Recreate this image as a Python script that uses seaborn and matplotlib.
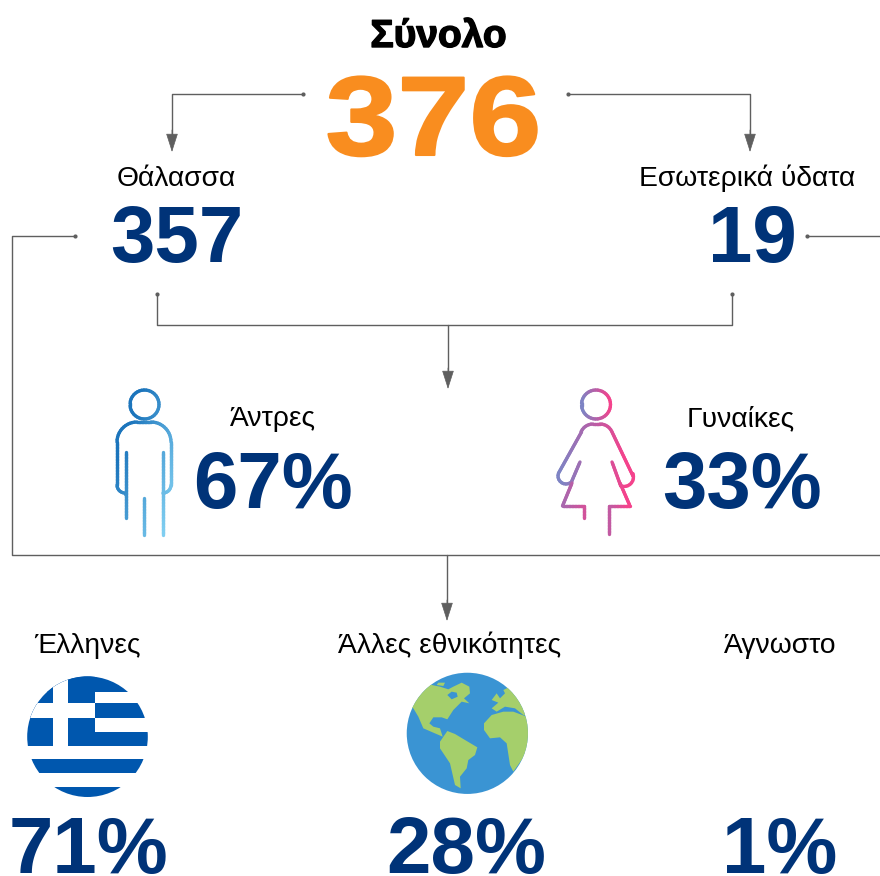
import numpy as np
import matplotlib
matplotlib.use("Agg")
import matplotlib.pyplot as plt
import matplotlib.patheffects as pe
from matplotlib.collections import LineCollection
from matplotlib.colors import LinearSegmentedColormap
from matplotlib.patches import Circle, Polygon, Rectangle
from matplotlib.transforms import Affine2D
import seaborn as sns

total_label = "Σύνολο"
total_value = 376
water_labels = ["Θάλασσα", "Εσωτερικά ύδατα"]
water_values = [357, 19]
sex_labels = ["Άντρες", "Γυναίκες"]
sex_values = [67, 33]
origin_labels = ["Έλληνες", "Άλλες εθνικότητες", "Άγνωστο"]
origin_values = [71, 28, 1]

ORANGE = "#f98d1f"
NAVY = "#003378"
GREY = "#5f5f5f"
FLAG_BLUE = "#0057ae"
SEA = "#3a94d3"
GREEN = "#a5cf6b"

sns.set_theme(style="white")
plt.rcParams["font.family"] = ["Liberation Sans", "DejaVu Sans"]

fig = plt.figure(figsize=(8.8, 8.76), dpi=100)
ax = fig.add_axes([0, 0, 1, 1])
ax.set_xlim(0, 880)
ax.set_ylim(876, 0)
ax.axis("off")


class WideText(pe.AbstractPathEffect):
    # the total is set in a wider, heavier cut than Liberation has
    def __init__(self, cx, sx, stroke):
        super().__init__()
        self.cx = cx
        self.sx = sx
        self.stroke = stroke

    def draw_path(self, renderer, gc, tpath, affine, rgbFace=None):
        wide = affine + Affine2D().translate(-self.cx, 0).scale(self.sx, 1).translate(self.cx, 0)
        gc0 = renderer.new_gc()
        gc0.copy_properties(gc)
        gc0.set_linewidth(self.stroke)
        gc0.set_foreground(rgbFace)
        renderer.draw_path(gc0, tpath, wide, rgbFace)
        gc0.restore()


def connector(xs, ys, dot=True):
    sns.lineplot(x=xs, y=ys, sort=False, estimator=None, color=GREY, linewidth=1, ax=ax, legend=False)
    if dot:
        ax.plot(xs[0], ys[0], "o", color=GREY, ms=3, mew=0)


def arrow(x, y0, y1):
    ax.annotate("", xy=(x, y1), xytext=(x, y0),
                arrowprops=dict(arrowstyle="-|>,head_length=1.0,head_width=0.32", color=GREY, lw=0.5, shrinkA=0, shrinkB=0))


connector([303, 172, 172], [94, 94, 140])
arrow(172, 130, 152)
connector([568, 750, 750], [94, 94, 140])
arrow(750, 130, 152)
connector([75, 12, 12, 880], [236, 236, 555, 555])
connector([807, 880], [236, 236])
connector([157, 157, 732, 732], [294, 325, 325, 294])
ax.plot(732, 294, "o", color=GREY, ms=3, mew=0)
connector([448, 448], [325, 378], dot=False)
arrow(448, 368, 389)
connector([447, 447], [555, 610], dot=False)
arrow(447, 600, 621)


def big(x, y, s, size=57.5, color=NAVY):
    return ax.text(x, y, s, ha="center", va="baseline", fontsize=size, fontweight="bold", color=color)


def small(x, y, s):
    ax.text(x, y, s, ha="center", va="baseline", fontsize=20.3, color="black")


title = big(438.5, 47, total_label, 28, color="black")
title.set_path_effects([pe.withStroke(linewidth=1.0, foreground="black")])
total = big(433.5, 155, str(total_value), 81, color=ORANGE)
total.set_path_effects([WideText(433.5, 1.15, 1.5)])
small(176, 186, water_labels[0])
small(747, 186, water_labels[1])
big(177, 262, str(water_values[0]))
big(752, 262, str(water_values[1]))
small(273, 426, sex_labels[0])
small(741, 426, sex_labels[1])
big(273, 508, f"{sex_values[0]}%")
big(742, 508, f"{sex_values[1]}%")
small(87, 653, origin_labels[0])
small(450, 653, origin_labels[1])
small(780, 653, origin_labels[2])
big(89, 873, f"{origin_values[0]}%")
big(466, 873, f"{origin_values[1]}%")
big(780, 873, f"{origin_values[2]}%")


def gradient_line(points, cmap, x0, x1, tilt=0.0, lw=2.4):
    # split the stroke in short pieces so the colour can follow x
    pts = np.array(points, dtype=float)
    parts = []
    for a, b in zip(pts[:-1], pts[1:]):
        n = max(int(np.hypot(*(b - a)) / 1.5), 1)
        parts.append(np.linspace(a, b, n, endpoint=False))
    parts.append(pts[-1:])
    p = np.vstack(parts)
    segs = np.stack([p[:-1], p[1:]], axis=1)
    lc = LineCollection(segs, cmap=cmap, linewidths=lw, capstyle="round", zorder=3)
    pos = segs[:, :, 0].mean(axis=1) + tilt * segs[:, :, 1].mean(axis=1)
    lc.set_array(np.clip((pos - x0) / (x1 - x0), 0, 1))
    lc.set_clim(0, 1)
    ax.add_collection(lc)


def arc(cx, cy, r, a0, a1, n=40):
    t = np.radians(np.linspace(a0, a1, n))
    return list(zip(cx + r * np.cos(t), cy + r * np.sin(t)))


# man icon
blue_map = LinearSegmentedColormap.from_list("man", ["#1c75bc", "#82d0f2"])
mx0, mx1 = 300, 378
gradient_line(arc(144.5, 404.5, 14.5, 0, 360), blue_map, mx0, mx1, 0.4)
body = [(125, 494)] + arc(125, 485, 8, 90, 180, 8) + arc(137, 442, 20, 180, 270, 14) + arc(151, 442, 20, 270, 360, 14) + arc(163, 485, 8, 0, 90, 8) + [(163, 494)]
gradient_line(body, blue_map, mx0, mx1, 0.4)
gradient_line([(125.7, 452), (125.7, 518)], blue_map, mx0, mx1, 0.4)
gradient_line([(144.3, 498), (144.3, 535)], blue_map, mx0, mx1, 0.4)
gradient_line([(162.7, 452), (162.7, 535)], blue_map, mx0, mx1, 0.4)

# woman icon
pink_map = LinearSegmentedColormap.from_list("woman", ["#7e84c4", "#b560a8", "#f4438c"])
gradient_line(arc(596, 404.5, 14.5, 0, 360), pink_map, 582, 610)
dress = [(580, 462), (571, 483)] + arc(566, 476, 8, 60, 200, 10) + [(581.5, 432)] + arc(593, 437, 13, 205, 270, 8) + arc(600, 437, 13, 270, 335, 8) + [(633, 476)] + arc(624, 477, 9.5, -20, 110, 10) + [(612, 462)]
gradient_line(dress, pink_map, 560, 625)
gradient_line([(572, 483), (562.5, 506), (583.5, 506), (583.5, 518)], pink_map, 540, 600)
gradient_line([(620, 483), (630, 506), (609, 506), (609, 534)], pink_map, 585, 625)

# greek flag, numbers below are crop coordinates of the icons (3x)
flag = Circle((87.5, 736.7), 60.3, transform=ax.transData)
fx = lambda v: v / 3
fy = lambda v: 660 + v / 3
flag_rects = [(0, 0, 540, 95), (0, 130, 540, 175), (0, 215, 540, 258), (0, 298, 540, 340), (0, 380, 540, 450), (0, 0, 285, 215)]
for x0, y0, x1, y1 in flag_rects:
    r = Rectangle((fx(x0), fy(y0)), fx(x1 - x0), (y1 - y0) / 3, color=FLAG_BLUE, lw=0)
    ax.add_patch(r)
    r.set_clip_path(flag)
for x0, y0, x1, y1 in [(160, 0, 205, 258), (0, 130, 285, 175)]:
    r = Rectangle((fx(x0), fy(y0)), fx(x1 - x0), (y1 - y0) / 3, color="white", lw=0)
    ax.add_patch(r)
    r.set_clip_path(flag)

# globe
gx = lambda v: 390 + v / 3
ax.add_patch(Circle((gx(232), fy(220)), 60.6, color=SEA, lw=0))
globe = Circle((gx(232), fy(220)), 60.6, transform=ax.transData)
shapes = [
    ([(40, 130), (100, 60), (125, 75), (150, 80), (175, 88), (190, 80), (215, 68), (238, 80), (240, 100), (222, 115), (238, 130), (215, 125), (190, 150),
      (172, 178), (155, 172), (130, 172), (118, 190), (130, 200), (150, 205), (158, 230), (130, 218), (100, 205), (85, 170), (70, 145)], GREEN),
    ([(172, 105), (185, 95), (200, 98), (203, 110), (185, 118)], SEA),
    ([(145, 68), (165, 68), (160, 78), (140, 75)], GREEN),
    ([(172, 213), (195, 222), (225, 240), (262, 262), (255, 285), (235, 300), (230, 325), (210, 350), (212, 385), (195, 375), (180, 310), (150, 265), (150, 245)], GREEN),
    ([(305, 120), (320, 100), (330, 115), (345, 100), (340, 90), (360, 80), (430, 120), (430, 170), (400, 165), (375, 145), (345, 140), (320, 155), (305, 145), (325, 128)], GREEN),
    ([(282, 190), (305, 165), (340, 155), (370, 155), (410, 170), (430, 250), (370, 335), (360, 315), (350, 250), (330, 232), (300, 235), (282, 210)], GREEN),
]
for pts, c in shapes:
    p = Polygon([(gx(a), fy(b)) for a, b in pts], closed=True, color=c, lw=0, zorder=2)
    ax.add_patch(p)
    p.set_clip_path(globe)

fig.savefig("out.png", dpi=100)
